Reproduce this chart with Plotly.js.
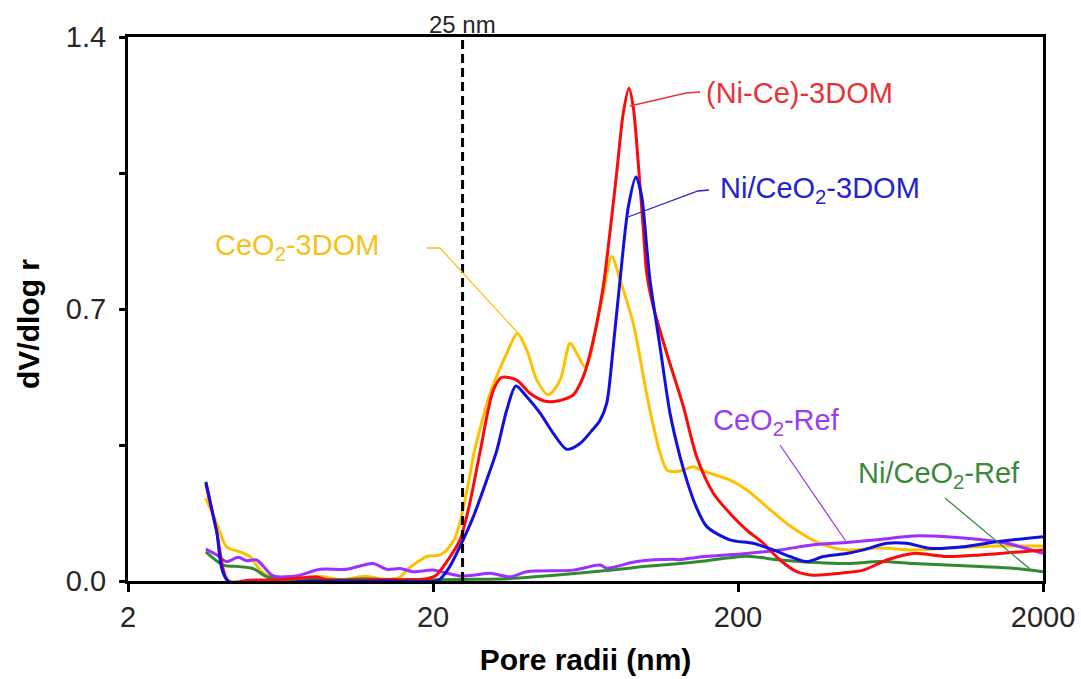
<!DOCTYPE html>
<html>
<head>
<meta charset="utf-8">
<script src="https://cdn.plot.ly/plotly-3.0.1.min.js"></script>
<style>html,body{margin:0;padding:0;background:#fff;}#chart{width:1081px;height:679px;}</style>
</head>
<body>
<div id="chart"></div>
<script>
// ---- Data ----
const xTickVals = [2, 20, 200, 2000];
const xTickText = ['2', '20', '200', '2000'];
const yTickVals = [0, 0.7, 1.4];
const yTickText = ['0.0', '0.7', '1.4'];
const yMinorTickVals = [0.35, 1.05];

const ceo23domX = [3.6, 3.9, 4.21, 4.66, 5.02, 5.42, 5.84, 7, 8.5, 10, 12, 14, 15.6, 16.4, 17.5, 19.1, 21.1, 22.2, 23.6, 24.5, 26.4, 27.1, 28.5, 30.8, 34.9, 37.8, 40.6, 43.8, 47.8, 52.2, 56.3, 59.2, 63.0, 65.5, 67.1, 72.3, 77.1, 82.1, 90.7, 100.4, 105.5, 111, 116.8, 122.7, 132, 142.7, 150, 188, 213.7, 248.4, 288.8, 336, 381, 454, 584, 751, 1000, 1410, 2000];
const ceo23domY = [0.213, 0.15, 0.088, 0.075, 0.063, 0.028, 0.011, 0.005, 0.012, 0.003, 0.012, 0.004, 0.01, 0.028, 0.045, 0.063, 0.067, 0.08, 0.11, 0.15, 0.27, 0.32, 0.39, 0.483, 0.586, 0.637, 0.594, 0.517, 0.479, 0.517, 0.612, 0.586, 0.551, 0.577, 0.62, 0.74, 0.835, 0.775, 0.663, 0.48, 0.40, 0.33, 0.286, 0.281, 0.285, 0.294, 0.286, 0.26, 0.234, 0.191, 0.148, 0.114, 0.093, 0.08, 0.085, 0.08, 0.085, 0.09, 0.09];

const niceRefX = [3.6, 4.11, 4.66, 5.15, 5.7, 6.5, 8, 10, 12, 14, 17, 20, 25, 35, 50, 74.2, 100, 129, 150, 213.7, 274.6, 454, 584, 751, 967, 1243, 1595, 2000];
const niceRefY = [0.075, 0.041, 0.037, 0.032, 0.011, 0.005, 0.004, 0.003, 0.006, 0.003, 0.004, 0.003, 0.004, 0.006, 0.015, 0.027, 0.038, 0.045, 0.05, 0.064, 0.054, 0.045, 0.05, 0.045, 0.041, 0.037, 0.033, 0.024];

const ceoRefX = [3.6, 3.91, 4.21, 4.6, 4.9, 5.28, 5.7, 5.99, 7.15, 8.52, 10.4, 12.7, 14.1, 15.6, 17.2, 20.0, 22.2, 24.5, 27, 30.8, 35.8, 40.6, 57.7, 70.6, 74.2, 93.1, 122.7, 129, 150, 213.7, 274.6, 353, 454, 584, 751, 967, 1243, 1521, 2000];
const ceoRefY = [0.082, 0.067, 0.05, 0.061, 0.052, 0.054, 0.028, 0.013, 0.013, 0.03, 0.03, 0.045, 0.03, 0.032, 0.024, 0.028, 0.02, 0.013, 0.015, 0.02, 0.011, 0.024, 0.028, 0.041, 0.033, 0.05, 0.056, 0.055, 0.062, 0.071, 0.08, 0.093, 0.099, 0.107, 0.116, 0.114, 0.107, 0.097, 0.071];

const niCe3domX = [3.6, 3.9, 4.26, 5, 6.5, 8.3, 9, 11, 14, 17, 19.1, 20.5, 22.2, 24.5, 26.4, 28.5, 31.5, 33.6, 37.6, 41.6, 46.0, 50, 54.9, 57.7, 62.2, 67.1, 72.3, 75.1, 80.0, 84.1, 87.8, 90.7, 94.2, 97.9, 100.4, 105.5, 116.8, 132.4, 146.4, 166, 188.3, 213.7, 242.2, 274.6, 311.5, 353.2, 432, 515, 615, 751, 967, 1243, 2000];
const niCe3domY = [0.25, 0.13, 0.0, 0.002, 0.004, 0.01, 0.003, 0.002, 0.004, 0.003, 0.006, 0.015, 0.05, 0.105, 0.2, 0.33, 0.49, 0.524, 0.517, 0.483, 0.464, 0.462, 0.47, 0.479, 0.526, 0.62, 0.757, 0.86, 1.049, 1.204, 1.268, 1.22, 1.075, 0.903, 0.792, 0.706, 0.586, 0.449, 0.32, 0.226, 0.174, 0.131, 0.097, 0.054, 0.024, 0.015, 0.02, 0.028, 0.054, 0.071, 0.063, 0.067, 0.08];

const niCeo23domX = [3.6, 3.9, 4.26, 8, 14, 20.5, 21.1, 22.7, 24.5, 27.1, 30.0, 32.4, 34.9, 37.4, 40.6, 44.9, 49.6, 54.9, 60.7, 66, 70.6, 74.2, 78.0, 82.1, 87.4, 92.6, 96.7, 100.4, 102.9, 111.0, 119.7, 129.1, 137, 146, 158, 188, 224, 261, 296, 336, 381, 454, 515, 615, 715, 852, 1096, 1410, 2000];
const niCeo23domY = [0.255, 0.13, 0.0, 0.0, 0.0, 0.0, 0.005, 0.037, 0.088, 0.165, 0.26, 0.337, 0.44, 0.502, 0.474, 0.432, 0.38, 0.339, 0.354, 0.385, 0.414, 0.457, 0.603, 0.775, 0.963, 1.04, 0.989, 0.86, 0.775, 0.603, 0.432, 0.32, 0.25, 0.19, 0.14, 0.106, 0.097, 0.08, 0.063, 0.05, 0.063, 0.071, 0.08, 0.097, 0.097, 0.084, 0.088, 0.101, 0.114];

const markerLineX = [25, 25];
const markerLineY = [0, 1.4];

// ---- Styles ----
const C = {
  yellow: '#ffc000', green: '#2e8b2e', purple: '#9b30ff', red: '#ff0a0a', blue: '#1010e0',
  yellowT: '#f5c21a', greenT: '#3a8a3a', purpleT: '#9a3cf0', redT: '#e8323a', blueT: '#2323cf'
};
const FONT = 'Liberation Sans, Arial, Helvetica, sans-serif';

function curve(x, y, color, name) {
  return {x: x, y: y, type: 'scatter', mode: 'lines', name: name,
    line: {color: color, width: 3, shape: 'spline', smoothing: 0.8}, hoverinfo: 'skip'};
}

const traces = [
  curve(ceo23domX, ceo23domY, C.yellow, 'CeO2-3DOM'),
  curve(niceRefX, niceRefY, C.green, 'Ni/CeO2-Ref'),
  curve(ceoRefX, ceoRefY, C.purple, 'CeO2-Ref'),
  curve(niCe3domX, niCe3domY, C.red, '(Ni-Ce)-3DOM'),
  curve(niCeo23domX, niCeo23domY, C.blue, 'Ni/CeO2-3DOM'),
  {x: markerLineX, y: markerLineY, type: 'scatter', mode: 'lines', name: '25 nm',
   line: {color: 'black', width: 3, dash: '9px,5px'}, hoverinfo: 'skip'}
];

// pixel -> paper helpers for labels / leader lines
const L = 128, R = 1043, T = 37, B = 581;
const PX = v => (v - L) / (R - L);
const PY = v => (B - v) / (B - T);

function label(text, px, py, color) {
  return {text: text, xref: 'paper', yref: 'paper', x: PX(px), y: PY(py),
    xanchor: 'left', yanchor: 'middle', showarrow: false,
    font: {family: FONT, size: 29, color: color}};
}
function leader(pts, color) {
  let d = 'M ' + pts.map(p => PX(p[0]) + ' ' + PY(p[1])).join(' L ');
  return {type: 'path', xref: 'paper', yref: 'paper', path: d,
    line: {color: color, width: 1.3}};
}

const layout = {
  width: 1081, height: 679,
  margin: {l: L, r: 1081 - R, t: T, b: 679 - B},
  paper_bgcolor: '#ffffff', plot_bgcolor: '#ffffff',
  showlegend: false,
  font: {family: FONT, color: '#262626'},
  xaxis: {
    type: 'log', range: [Math.log10(2), Math.log10(2000)],
    tickmode: 'array', tickvals: xTickVals, ticktext: xTickText,
    ticks: 'outside', ticklen: 8, tickwidth: 3, tickcolor: '#000',
    showline: true, linewidth: 3, linecolor: '#000', mirror: true,
    showgrid: false, zeroline: false, layer: 'below traces', automargin: false,
    tickfont: {family: FONT, size: 29, color: '#262626'},
    title: {text: 'Pore radii (nm)', standoff: 18,
      font: {family: FONT, size: 30, color: '#000', weight: 700}}
  },
  yaxis: {
    range: [0, 1.4],
    tickmode: 'array', tickvals: yTickVals, ticktext: yTickText,
    ticks: 'outside', ticklen: 6, tickwidth: 3, tickcolor: '#000',
    minor: {tickmode: 'array', tickvals: yMinorTickVals, ticks: 'outside', ticklen: 6, tickwidth: 3, tickcolor: '#000', showgrid: false},
    ticklabelstandoff: 7,
    showline: true, linewidth: 3, linecolor: '#000', mirror: true,
    showgrid: false, zeroline: false, layer: 'below traces', automargin: false,
    tickfont: {family: FONT, size: 29, color: '#262626'}
  },
  annotations: [
    {text: 'dV/dlog r', xref: 'paper', yref: 'paper', x: PX(28), y: PY(324),
     xanchor: 'center', yanchor: 'middle', textangle: -90, showarrow: false,
     font: {family: FONT, size: 30, color: '#000', weight: 700}},
    {text: '25 nm', xref: 'x', yref: 'paper', x: Math.log10(25), y: 1, xanchor: 'center', yanchor: 'bottom',
     yshift: -3, showarrow: false, font: {family: FONT, size: 24, color: '#262626'}},
    label('(Ni-Ce)-3DOM', 704, 93, C.redT),
    label('Ni/CeO<sub>2</sub>-3DOM', 718, 190, C.blueT),
    label('CeO<sub>2</sub>-3DOM', 213, 247, C.yellowT),
    label('CeO<sub>2</sub>-Ref', 711, 422, C.purpleT),
    label('Ni/CeO<sub>2</sub>-Ref', 856, 475, C.greenT)
  ],
  shapes: [
    leader([[630, 106], [686, 93], [700, 92]], C.redT),
    leader([[628, 217], [698, 191], [709, 190]], C.blueT),
    leader([[427, 248], [440, 248], [517, 332]], C.yellowT),
    leader([[780, 445], [847, 543]], C.purpleT),
    leader([[945, 498], [1030, 569]], C.greenT)
  ]
};

Plotly.newPlot('chart', traces, layout, {displayModeBar: false, staticPlot: true});
</script>
</body>
</html>
